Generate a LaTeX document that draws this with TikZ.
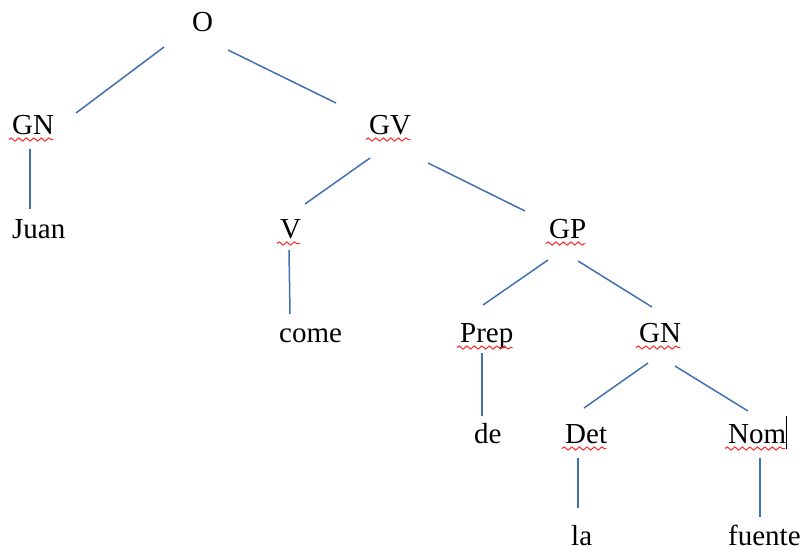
\documentclass[tikz,border=0pt]{standalone}
\usepackage{fontspec}
\setmainfont{Liberation Serif}
\usetikzlibrary{decorations.pathmorphing}

\definecolor{branchblue}{HTML}{4270B0}
\definecolor{spellred}{HTML}{FF2A2A}

\tikzset{
    lbl/.style={anchor=base west, inner sep=0pt, font=\fontsize{29}{34}\selectfont},
    branch/.style={draw=branchblue, line width=1.5pt},
    spell/.style={draw=spellred, line width=1pt, decorate,
        decoration={snake, amplitude=1.6pt, segment length=7.5pt}}
}

\begin{document}
\begin{tikzpicture}[x=1pt,y=-1pt]
    \useasboundingbox (0,0) rectangle (804,550);

    % labels of the tree
    \node[lbl] (O) at (192,31) {O};
    \node[lbl] (GNa) at (12,134) {GN};
    \node[lbl] (GV) at (369,134) {GV};
    \node[lbl] (Juan) at (12,238) {Juan};
    \node[lbl] (V) at (280,238) {V};
    \node[lbl] (GP) at (549,238) {GP};
    \node[lbl] (come) at (279,342) {come};
    \node[lbl] (Prep) at (460,342) {Prep};
    \node[lbl] (GNb) at (639,342) {GN};
    \node[lbl] (de) at (474,443) {de};
    \node[lbl] (Det) at (565,443) {Det};
    \node[lbl] (Nom) at (728,443) {Nom};
    \node[lbl] (la) at (571,545) {la};
    \node[lbl] (fuente) at (728,545) {fuente};

    % branches
    \draw[branch] ([shift={(-28,16)}]O.base west) -- ([shift={(64,-21)}]GNa.base west);
    \draw[branch] ([shift={(36,19)}]O.base west) -- ([shift={(-33,-31)}]GV.base west);
    \draw[branch] ([shift={(18,15)}]GNa.base west) -- ([shift={(18,-29)}]Juan.base west);
    \draw[branch] ([shift={(1,24)}]GV.base west) -- ([shift={(25,-34)}]V.base west);
    \draw[branch] ([shift={(59,29)}]GV.base west) -- ([shift={(-24,-27)}]GP.base west);
    \draw[branch] ([shift={(9,12)}]V.base west) -- ([shift={(11,-28)}]come.base west);
    \draw[branch] ([shift={(-1,22)}]GP.base west) -- ([shift={(23,-37)}]Prep.base west);
    \draw[branch] ([shift={(29,23)}]GP.base west) -- ([shift={(13,-35)}]GNb.base west);
    \draw[branch] ([shift={(22,11)}]Prep.base west) -- ([shift={(8,-27)}]de.base west);
    \draw[branch] ([shift={(9,21)}]GNb.base west) -- ([shift={(19,-35)}]Det.base west);
    \draw[branch] ([shift={(36,24)}]GNb.base west) -- ([shift={(20,-32)}]Nom.base west);
    \draw[branch] ([shift={(13,15)}]Det.base west) -- ([shift={(7,-37)}]la.base west);
    \draw[branch] ([shift={(32,15)}]Nom.base west) -- ([shift={(32,-28)}]fuente.base west);

    % spell-check underlines
    \foreach \w in {GNa,GV,V,GP,Prep,GNb,Det,Nom}
        \draw[spell] ([shift={(-3,5.5)}]\w.base west) -- ([shift={(-1,5.5)}]\w.base east);

    % text cursor
    \draw[line width=1.2pt] ([shift={(0,-27)}]Nom.base east) -- ([shift={(0,6)}]Nom.base east);
\end{tikzpicture}
\end{document}
